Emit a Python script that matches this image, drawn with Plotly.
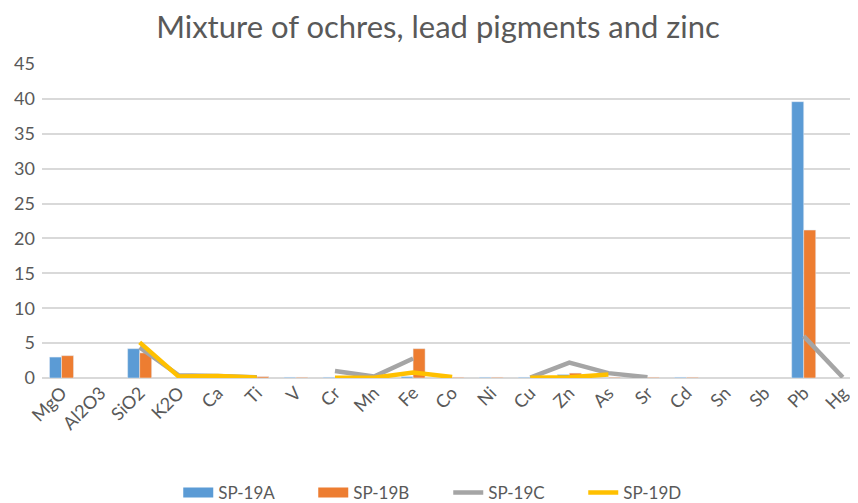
import plotly.graph_objects as go

categories = ["MgO", "Al2O3", "SiO2", "K2O", "Ca", "Ti", "V", "Cr", "Mn", "Fe", "Co",
              "Ni", "Cu", "Zn", "As", "Sr", "Cd", "Sn", "Sb", "Pb", "Hg"]

sp19a = [3.0, None, 4.2, None, None, None, 0.1, 0.1, None, 0.2, None,
         0.1, 0.1, 0.5, None, None, 0.1, None, None, 39.6, None]
sp19b = [3.2, None, 3.6, None, None, 0.2, 0.1, None, None, 4.2, 0.1,
         0.1, None, 0.7, 0.1, 0.1, 0.1, None, None, 21.2, None]
sp19c = [None, None, 4.4, 0.4, 0.3, 0.1, None, 1.0, 0.2, 2.8, None,
         None, 0.05, 2.2, 0.7, 0.1, None, None, None, 6.0, 0.1]
sp19d = [None, None, 5.1, 0.2, 0.3, 0.05, None, 0.05, 0.05, 0.8, 0.15,
         None, 0.05, 0.1, 0.5, None, None, None, None, None, None]

y_ticks = [0, 5, 10, 15, 20, 25, 30, 35, 40, 45]

BLUE, ORANGE, GRAY, YELLOW = "#5b9bd5", "#ed7d31", "#a5a5a5", "#ffc000"
TXT = "#595959"
FONT = "Lato"

# page body has an 8px margin, so the figure is placed at (8, 8)
W, H = 850, 495

fig = go.Figure()
fig.add_trace(go.Bar(x=categories, y=sp19a, name="SP-19A", marker_color=BLUE, showlegend=False))
fig.add_trace(go.Bar(x=categories, y=sp19b, name="SP-19B", marker_color=ORANGE, showlegend=False))
fig.add_trace(go.Scatter(x=categories, y=sp19c, name="SP-19C", mode="lines",
                         line=dict(color=GRAY, width=4.5), connectgaps=False, showlegend=False))
fig.add_trace(go.Scatter(x=categories, y=sp19d, name="SP-19D", mode="lines",
                         line=dict(color=YELLOW, width=4.5), connectgaps=False, showlegend=False))

# legend entries
for name, col, w in [("SP-19A", BLUE, 12), ("SP-19B", ORANGE, 12), ("SP-19C", GRAY, 4.5), ("SP-19D", YELLOW, 4.5)]:
    fig.add_trace(go.Scatter(x=[None], y=[None], name=name, mode="lines",
                             line=dict(color=col, width=w), showlegend=True))

fig.update_layout(
    width=W, height=H,
    margin=dict(l=33.5, r=0, t=56, b=125, autoexpand=False),
    paper_bgcolor="white", plot_bgcolor="white",
    barmode="group", bargap=0.385, bargroupgap=0,
    font=dict(family=FONT, color=TXT),
    title=dict(text="Mixture of ochres, lead pigments and zinc", x=(438 - 8) / W, xanchor="center",
               y=1 - 19 / H, yanchor="middle", yref="container",
               font=dict(size=31, color=TXT, family=FONT)),
    xaxis=dict(type="category", range=[-0.5, 20.39], tickangle=-45, showgrid=False, automargin=False,
               tickfont=dict(size=18, color=TXT), ticks="", showline=False, zeroline=False),
    yaxis=dict(range=[0, 45], tickvals=y_ticks, showgrid=True, gridcolor="#d9d9d9", gridwidth=1.5,
               automargin=False,
               tickfont=dict(size=18, color=TXT), zeroline=True, zerolinecolor="#d9d9d9",
               zerolinewidth=1.5, ticklabelstandoff=6),
    legend=dict(orientation="h", x=(448 - 8 - 33.5) / (W - 33.5), xanchor="center",
                y=(370 - 485) / 314, yanchor="middle", entrywidth=90, entrywidthmode="pixels",
                yref="paper", font=dict(size=17, color=TXT), traceorder="normal"),
)

fig.write_html("out.html")
